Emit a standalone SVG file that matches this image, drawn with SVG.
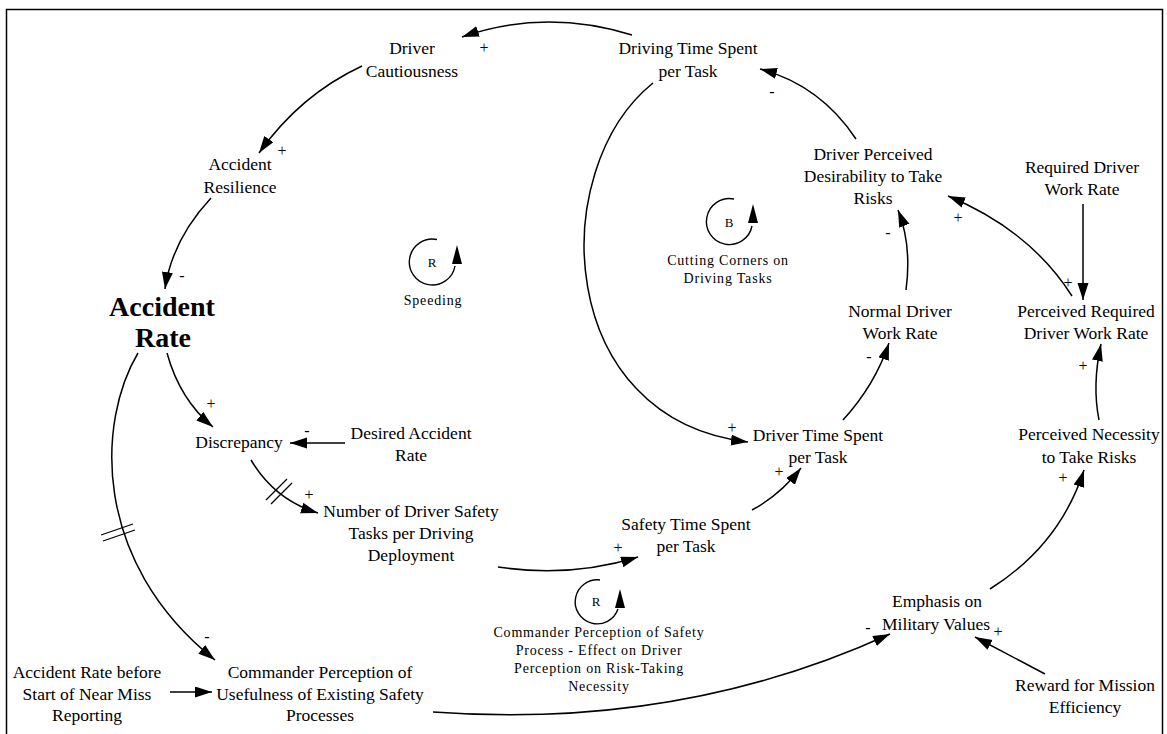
<svg xmlns="http://www.w3.org/2000/svg" width="1167" height="734" viewBox="0 0 1167 734">
<defs>
<style>
text{font-family:"Liberation Serif","Times New Roman",serif;fill:#000}
.n{font-size:17.5px;text-anchor:middle}
.big{font-size:28px;font-weight:bold;text-anchor:middle}
.s{font-size:16px;text-anchor:middle}
.lp{font-size:14px;text-anchor:middle;letter-spacing:0.8px}
.lt{font-size:13px;text-anchor:middle}
.c{fill:none;stroke:#000;stroke-width:1.5;marker-end:url(#ah)}
.l{fill:none;stroke:#000;stroke-width:1.4}
.d{fill:none;stroke:#000;stroke-width:1.3}
</style>
<marker id="ah" markerUnits="userSpaceOnUse" markerWidth="18" markerHeight="12" refX="17" refY="5.5" orient="auto">
<path d="M0,0 L17,5.5 L0,11 z" fill="#000"/>
</marker>
</defs>
<rect x="0" y="0" width="1167" height="734" fill="#fff"/>
<rect x="6.5" y="9.5" width="1156" height="740" fill="none" stroke="#000" stroke-width="1.5"/>

<g id="connectors">
<path class="c" d="M632,35 Q545,8 462,37"/>
<path class="c" d="M362,66 Q300,95 259,153"/>
<path class="c" d="M211,198 Q172,240 165,289"/>
<path class="c" d="M167,353 Q180,400 213,427"/>
<path class="c" d="M345,443 L290,443"/>
<path class="c" d="M251,460 Q275,500 318,513"/>
<path class="d" d="M266,500 L287,479 M271,504 L292,483"/>
<path class="c" d="M138,353 C98,420 90,560 215,660"/>
<path class="d" d="M101,535 L133,524 M103,541 L135,530"/>
<path class="c" d="M170,692 L212,692"/>
<path class="c" d="M433,712 Q680,730 890,634"/>
<path class="c" d="M1045,674 L975,637"/>
<path class="c" d="M990,589 Q1060,545 1084,470"/>
<path class="c" d="M1099,420 Q1092,385 1101,344"/>
<path class="c" d="M1083,204 L1083,300"/>
<path class="c" d="M1072,296 Q1030,230 948,196"/>
<path class="c" d="M906,290 Q912,245 898,210"/>
<path class="c" d="M856,139 Q820,85 760,69"/>
<path class="c" d="M653,83 C545,170 555,420 748,442"/>
<path class="c" d="M843,420 Q875,385 889,343"/>
<path class="c" d="M752,510 Q780,495 801,468"/>
<path class="c" d="M498,567 Q570,578 638,557"/>
</g>

<g id="polarities">
<text class="s" x="484" y="53">+</text>
<text class="s" x="282" y="156">+</text>
<text class="s" x="182" y="281">-</text>
<text class="s" x="211" y="409">+</text>
<text class="s" x="307" y="436">-</text>
<text class="s" x="309" y="500">+</text>
<text class="s" x="207" y="642">-</text>
<text class="s" x="772" y="97">-</text>
<text class="s" x="888" y="238">-</text>
<text class="s" x="958" y="223">+</text>
<text class="s" x="1068" y="288">+</text>
<text class="s" x="1083" y="371">+</text>
<text class="s" x="1063" y="483">+</text>
<text class="s" x="868" y="633">-</text>
<text class="s" x="998" y="637">+</text>
<text class="s" x="869" y="362">-</text>
<text class="s" x="732" y="433">+</text>
<text class="s" x="779" y="477">+</text>
<text class="s" x="618" y="553">+</text>
</g>

<g id="loop-speeding">
<path class="l" d="M437,239.5 A23,23 0 1,0 455,266"/>
<path d="M457,245 L452,264 L462,264 z" fill="#000"/>
<text class="lt" x="432" y="267">R</text>
<text class="lp" x="433" y="305">Speeding</text>
</g>
<g id="loop-cutting-corners">
<path class="l" d="M734,199 A23,23 0 1,0 752,226"/>
<path d="M753,204 L748,223 L758,223 z" fill="#000"/>
<text class="lt" x="729" y="227">B</text>
<text class="lp" x="728" y="265">Cutting Corners on</text>
<text class="lp" x="728" y="283">Driving Tasks</text>
</g>
<g id="loop-commander">
<path class="l" d="M600,580 A22,22 0 1,0 618,609"/>
<path d="M620,589 L615,608 L625,608 z" fill="#000"/>
<text class="lt" x="596" y="606">R</text>
<text class="lp" x="599" y="637">Commander Perception of Safety</text>
<text class="lp" x="599" y="655">Process - Effect on Driver</text>
<text class="lp" x="599" y="673">Perception on Risk-Taking</text>
<text class="lp" x="599" y="691">Necessity</text>
</g>

<g id="driver-cautiousness"><text class="n" x="412" y="54">Driver</text><text class="n" x="412" y="77">Cautiousness</text></g>
<g id="driving-time-spent"><text class="n" x="688" y="54">Driving Time Spent</text><text class="n" x="688" y="77">per Task</text></g>
<g id="accident-resilience"><text class="n" x="240" y="170">Accident</text><text class="n" x="240" y="193">Resilience</text></g>
<g id="accident-rate"><text class="big" x="162" y="316">Accident</text><text class="big" x="163" y="347">Rate</text></g>
<g id="discrepancy"><text class="n" x="239" y="448">Discrepancy</text></g>
<g id="desired-accident-rate"><text class="n" x="411" y="439">Desired Accident</text><text class="n" x="411" y="461">Rate</text></g>
<g id="number-safety-tasks"><text class="n" x="411" y="517">Number of Driver Safety</text><text class="n" x="411" y="539">Tasks per Driving</text><text class="n" x="411" y="561">Deployment</text></g>
<g id="safety-time-spent"><text class="n" x="686" y="530">Safety Time Spent</text><text class="n" x="686" y="552">per Task</text></g>
<g id="driver-time-spent"><text class="n" x="818" y="441">Driver Time Spent</text><text class="n" x="818" y="463">per Task</text></g>
<g id="normal-driver-work-rate"><text class="n" x="900" y="317">Normal Driver</text><text class="n" x="900" y="339">Work Rate</text></g>
<g id="driver-perceived-desirability"><text class="n" x="873" y="160">Driver Perceived</text><text class="n" x="873" y="182">Desirability to Take</text><text class="n" x="873" y="204">Risks</text></g>
<g id="required-driver-work-rate"><text class="n" x="1082" y="173">Required Driver</text><text class="n" x="1082" y="195">Work Rate</text></g>
<g id="perceived-required-work-rate"><text class="n" x="1086" y="317">Perceived Required</text><text class="n" x="1086" y="339">Driver Work Rate</text></g>
<g id="perceived-necessity"><text class="n" x="1089" y="440">Perceived Necessity</text><text class="n" x="1089" y="463">to Take Risks</text></g>
<g id="emphasis-military-values"><text class="n" x="937" y="607">Emphasis on</text><text class="n" x="936" y="630">Military Values</text></g>
<g id="reward-mission-efficiency"><text class="n" x="1085" y="691">Reward for Mission</text><text class="n" x="1085" y="713">Efficiency</text></g>
<g id="accident-rate-before"><text class="n" x="87" y="678">Accident Rate before</text><text class="n" x="87" y="700">Start of Near Miss</text><text class="n" x="87" y="721">Reporting</text></g>
<g id="commander-perception"><text class="n" x="320" y="678">Commander Perception of</text><text class="n" x="320" y="700">Usefulness of Existing Safety</text><text class="n" x="320" y="721">Processes</text></g>
</svg>
